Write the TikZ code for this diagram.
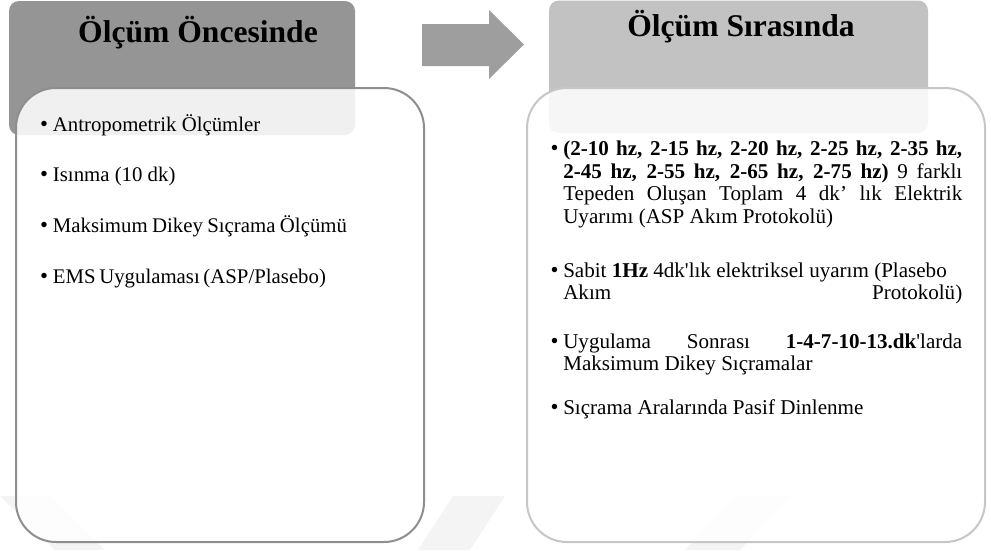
\documentclass[tikz,border=0pt]{standalone}
\usepackage{fontspec}
\setmainfont{Liberation Serif}[Ligatures=TeXOff]
\definecolor{hdrA}{HTML}{959595}
\definecolor{hdrB}{HTML}{C2C2C2}
\definecolor{brdA}{HTML}{8E8E8E}
\definecolor{brdB}{HTML}{C6C6C6}
\definecolor{arrcol}{HTML}{9E9E9E}
\definecolor{wmcol}{HTML}{F4F4F4}
\newcommand{\itembul}{\makebox[0pt][r]{{\fontsize{17}{17}\selectfont •}\hspace{3.6pt}}}
\begin{document}
\begin{tikzpicture}[x=0.75pt,y=-0.75pt,
  hdrbox/.style={rounded corners=7.5pt},
  bodybox/.style={rounded corners=30pt, fill=white, fill opacity=0.86, line width=1.5pt},
  ttl/.style={font=\fontsize{23.7}{28}\selectfont\bfseries, anchor=base, inner sep=0pt},
  litem/.style={font=\fontsize{15.6}{17}\selectfont, anchor=base west, inner sep=0pt},
  ritem/.style={font=\fontsize{15.8}{16.9}\selectfont, anchor=base west, inner sep=0pt,
                text width=299.25pt, align=justify},
  wmband/.style={fill=wmcol, draw=none}
]
\useasboundingbox (0,0) rectangle (991,550);
% faint watermark bands
\fill[wmband] (0,496) -- (50,496) -- (105,550) -- (55,550) -- cycle;
\fill[wmband] (453,496) -- (505,496) -- (470,550) -- (418,550) -- cycle;
\fill[wmband] (735,496) -- (790,496) -- (740,550) -- (685,550) -- cycle;
% headers
\fill[hdrbox, hdrA] (9,1) rectangle (355,135);
\fill[hdrbox, hdrB] (549,0.5) rectangle (928,133);
% bodies
\draw[bodybox, draw=brdA] (16,88) rectangle (424,542);
\draw[bodybox, draw=brdB] (527,88) rectangle (985,542);
% arrow
\fill[arrcol] (422,24) -- (489,24) -- (489,10) -- (524,44.5) -- (489,79) -- (489,66) -- (422,66) -- cycle;
% titles
\node[ttl] (t1) at (198,42) {Ölçüm Öncesinde};
\node[ttl] (t2) at (741,36) {Ölçüm Sırasında};
% left items
\node[litem] (l1) at (52.7,131) {\itembul Antropometrik Ölçümler};
\node[litem] (l2) at (52.7,181) {\itembul Isınma (10 dk)};
\node[litem] (l3) at (52.7,232) {\itembul\makebox[220.5pt][s]{Maksimum Dikey Sıçrama Ölçümü}};
\node[litem] (l4) at (52.7,283) {\itembul\makebox[204.75pt][s]{EMS Uygulaması (ASP/Plasebo)}};
% right items
\node[ritem] (r1) at (563,155.5) {\itembul\textbf{(2-10 hz, 2-15 hz, 2-20 hz, 2-25 hz, 2-35 hz,}\linebreak
  \textbf{2-45 hz, 2-55 hz, 2-65 hz, 2-75 hz)} 9 farklı\linebreak
  Tepeden Oluşan Toplam 4 dk’ lık Elektrik\linebreak
  Uyarımı (ASP Akım Protokolü)};
\node[ritem] (r2) at (563,277) {\itembul Sabit \textbf{1Hz} 4dk'lık elektriksel uyarım (Plasebo\newline
  Akım\hfill Protokolü)};
\node[ritem] (r3) at (563,348) {\itembul Uygulama Sonrası \textbf{1-4-7-10-13.dk}'larda\linebreak
  Maksimum Dikey Sıçramalar};
\node[ritem] (r4) at (563,414) {\itembul Sıçrama Aralarında Pasif Dinlenme};
\end{tikzpicture}
\end{document}
